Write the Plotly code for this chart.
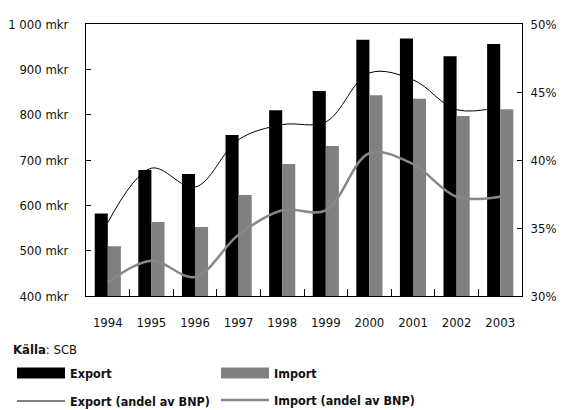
import plotly.graph_objects as go

years = ["1994", "1995", "1996", "1997", "1998", "1999", "2000", "2001", "2002", "2003"]
export_mkr = [582, 678, 669, 755, 810, 852, 965, 968, 929, 956]
import_mkr = [510, 563, 552, 623, 691, 731, 843, 835, 797, 812]
export_share = [0.354, 0.394, 0.380, 0.415, 0.426, 0.428, 0.464, 0.459, 0.437, 0.439]
import_share = [0.310, 0.326, 0.314, 0.345, 0.363, 0.363, 0.405, 0.397, 0.373, 0.373]

left_ticks = [400, 500, 600, 700, 800, 900, 1000]
left_labels = ["400 mkr", "500 mkr", "600 mkr", "700 mkr", "800 mkr", "900 mkr", "1 000 mkr"]
right_ticks = [0.30, 0.35, 0.40, 0.45, 0.50]

FONT = "DejaVu Sans Condensed, Liberation Sans Narrow, sans-serif"
FS = 13
LFS = 12.5

fig = go.Figure()
fig.add_trace(go.Bar(x=years, y=export_mkr, name="Export", marker_color="#000000",
                     marker_line_width=0))
fig.add_trace(go.Bar(x=years, y=import_mkr, name="Import", marker_color="#808080",
                     marker_line_width=0))
fig.add_trace(go.Scatter(x=years, y=export_share, name="Export (andel av BNP)", yaxis="y2",
                         mode="lines", line=dict(color="#000000", width=1, shape="spline", smoothing=1)))
fig.add_trace(go.Scatter(x=years, y=import_share, name="Import (andel av BNP)", yaxis="y2",
                         mode="lines", line=dict(color="#888888", width=2.5, shape="spline", smoothing=1)))

# page has an 8px body margin: figure box starts at (8, 8)
fig.update_layout(
    width=557, height=402,
    margin=dict(l=78, r=43, t=16, b=114, autoexpand=False),
    paper_bgcolor="white", plot_bgcolor="white",
    font=dict(family=FONT, size=FS, color="#111111"),
    barmode="group", bargap=0.4, bargroupgap=0,
    showlegend=False,
    xaxis=dict(type="category", tickson="boundaries", ticks="inside", ticklen=7,
               tickcolor="#000", showline=True, linecolor="#000", linewidth=1, mirror=True,
               showgrid=False, ticklabelstandoff=14, tickangle=0, tickfont=dict(size=FS),
               automargin=False),
    yaxis=dict(range=[400, 1000], tickvals=left_ticks, ticktext=left_labels,
               ticks="inside", ticklen=5, tickcolor="#000", showline=True, linecolor="#000",
               linewidth=1, showgrid=False, zeroline=False, ticklabelstandoff=14,
               automargin=False),
    yaxis2=dict(range=[0.30, 0.50], tickvals=right_ticks, tickformat=".0%", overlaying="y",
                side="right", ticks="inside", ticklen=5, tickcolor="#000", showline=True,
                linecolor="#000", linewidth=1, showgrid=False, zeroline=False,
                ticklabelstandoff=5, automargin=False),
)

# page-pixel -> paper coordinates (plot area spans page x 86..522, y 24..296)
def px_x(x):
    return (x - 86) / 436

def px_y(y):
    return (296 - y) / 272

# Source note
fig.add_annotation(xref="paper", yref="paper", x=px_x(11), y=px_y(349), xanchor="left",
                   yanchor="middle", showarrow=False, align="left",
                   text="<b>Källa</b>: SCB", font=dict(size=FS))

# Custom legend
legend_items = [
    ("bar", "#000000", 17, 373, "Export"),
    ("bar", "#808080", 221, 373, "Import"),
    ("line", "#000000", 17, 401, "Export (andel av BNP)"),
    ("line", "#888888", 221, 400, "Import (andel av BNP)"),
]
for kind, col, x0, yc, label in legend_items:
    if kind == "bar":
        fig.add_shape(type="rect", xref="paper", yref="paper", x0=px_x(x0), x1=px_x(x0 + 48),
                      y0=px_y(yc - 5.5), y1=px_y(yc + 5.5), fillcolor=col, line_width=0)
    else:
        fig.add_shape(type="line", xref="paper", yref="paper", x0=px_x(x0), x1=px_x(x0 + 48),
                      y0=px_y(yc), y1=px_y(yc),
                      line=dict(color=col, width=1 if col == "#000000" else 2.5))
    fig.add_annotation(xref="paper", yref="paper", x=px_x(x0 + 51), y=px_y(yc), xanchor="left",
                       yanchor="middle", showarrow=False, text="<b>" + label + "</b>",
                       font=dict(size=LFS))

fig.write_html("out.html")
